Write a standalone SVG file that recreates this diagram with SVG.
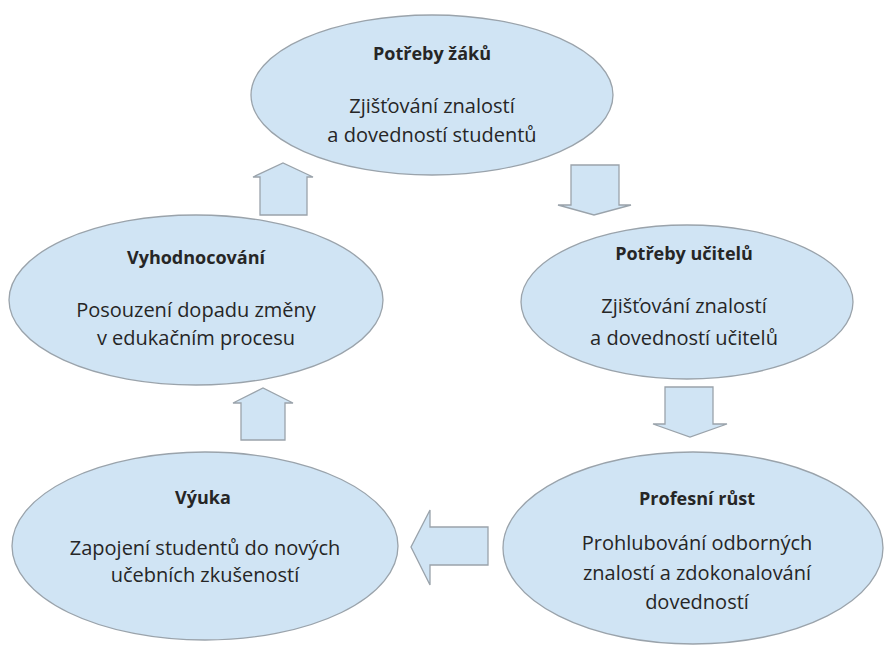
<svg xmlns="http://www.w3.org/2000/svg" width="884" height="646" viewBox="0 0 884 646">
<style>
.node{fill:#d0e4f4;stroke:#9aa3ab;stroke-width:1.3}
.arr{fill:#d0e4f4;stroke:#9aa3ab;stroke-width:1.3;stroke-linejoin:miter}
text{font-family:"Open Sans","Noto Sans","Liberation Sans",sans-serif;fill:#262626;text-anchor:middle;font-size:20px}
.t{font-weight:bold;font-size:18px}
</style>
<rect width="884" height="646" fill="#ffffff"/>
<g id="connectors">
<polygon class="arr" points="260,215 260,177 253,177 283,163 313,177 307,177 307,215"/>
<polygon class="arr" points="571,165 619,165 619,205 631,205 594,215 558,205 571,205"/>
<polygon class="arr" points="665,387 713,387 713,424 727,424 690,437 653,424 665,424"/>
<polygon class="arr" points="488,527 488,565 430,565 430,585 411,547 430,510 430,527"/>
<polygon class="arr" points="241,440 241,403 233,403 263,388 293,403 285,403 285,440"/>
</g>
<g id="node-potreby-zaku">
<ellipse class="node" cx="432" cy="95" rx="181" ry="80"/>
<text class="t" x="432" y="60">Potřeby žáků</text>
<text x="432" y="113">Zjišťování znalostí</text>
<text x="432" y="142">a dovedností studentů</text>
</g>
<g id="node-potreby-ucitelu">
<ellipse class="node" cx="687" cy="302" rx="166" ry="77"/>
<text class="t" x="684" y="260">Potřeby učitelů</text>
<text x="684" y="313">Zjišťování znalostí</text>
<text x="684" y="345">a dovedností učitelů</text>
</g>
<g id="node-profesni-rust">
<ellipse class="node" cx="693" cy="548" rx="190" ry="96"/>
<text class="t" x="697" y="505">Profesní růst</text>
<text x="697" y="550">Prohlubování odborných</text>
<text x="697" y="580">znalostí a zdokonalování</text>
<text x="697" y="609">dovedností</text>
</g>
<g id="node-vyuka">
<ellipse class="node" cx="205" cy="546" rx="193" ry="94"/>
<text class="t" x="203" y="504">Výuka</text>
<text x="205" y="555">Zapojení studentů do nových</text>
<text x="205" y="582">učebních zkušeností</text>
</g>
<g id="node-vyhodnocovani">
<ellipse class="node" cx="196" cy="300" rx="187" ry="85"/>
<text class="t" x="196" y="264">Vyhodnocování</text>
<text x="196" y="317">Posouzení dopadu změny</text>
<text x="196" y="345">v edukačním procesu</text>
</g>
</svg>
